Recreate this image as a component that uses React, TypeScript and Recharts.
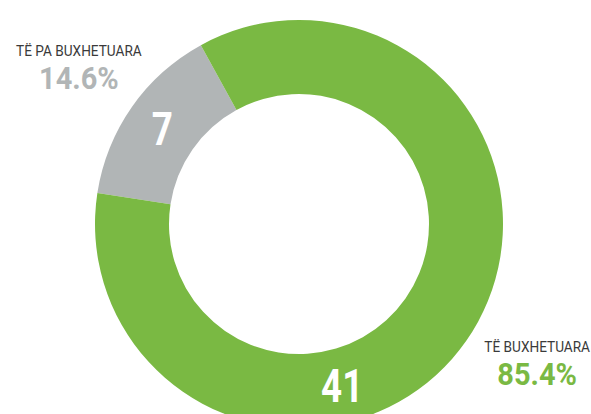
import { Cell, Pie, PieChart } from "recharts";

const categories = ["TË PA BUXHETUARA", "TË BUXHETUARA"];
const counts = [7, 41];
const colors = ["#b1b5b6", "#7ab943"];
const nameColor = "#3a3a3a";

const total = counts.reduce((s, v) => s + v, 0);
const data = categories.map((name, i) => ({
  name,
  value: counts[i],
  pct: ((counts[i] / total) * 100).toFixed(1) + "%",
}));

const FONT = "Roboto, 'Liberation Sans', sans-serif";
const RAD = Math.PI / 180;

// squeezed text, to get the condensed look of the original
const Squeezed = ({ x, y, sx, ...rest }: any) => (
  <g transform={`translate(${x},${y}) scale(${sx},1)`}>
    <text x={0} y={0} textAnchor="middle" fontFamily={FONT} {...rest} />
  </g>
);

const renderLabel = (props: any) => {
  const { cx, cy, midAngle, innerRadius, outerRadius, index, value, payload } = props;
  // big slice number sits near the bottom of the ring, not at its middle
  const valAngle = index === 0 ? midAngle : 285;
  const rMid = (innerRadius + outerRadius) / 2;
  const vx = cx + rMid * Math.cos(valAngle * RAD);
  const vy = cy - rMid * Math.sin(valAngle * RAD);

  const outAngle = midAngle + (index === 0 ? -0.4 : 4.5);
  const rOut = outerRadius + (index === 0 ? 66 : 72.4);
  const ox = cx + rOut * Math.cos(outAngle * RAD);
  const oy = cy - rOut * Math.sin(outAngle * RAD);

  return (
    <g>
      <Squeezed x={vx} y={vy + 16.5} sx={0.8} fill="#ffffff" fontWeight="bold" fontSize={46}>
        {value}
      </Squeezed>
      <Squeezed x={ox} y={oy - 12} sx={0.88} fill={nameColor} fontSize={15.5}>
        {payload.name}
      </Squeezed>
      <Squeezed x={ox} y={oy + 21} sx={0.92} fill={colors[index]} fontWeight="bold" fontSize={31.5}>
        {payload.pct}
      </Squeezed>
    </g>
  );
};

export default function App() {
  const start = 118.75;
  return (
    <div>
      <style>{`body{margin:0;background:#fff}`}</style>
      <PieChart width={591} height={414}>
        <Pie
          data={data}
          dataKey="value"
          cx={294}
          cy={219}
          innerRadius={130}
          outerRadius={204}
          startAngle={start}
          endAngle={start + 360}
          stroke="none"
          label={renderLabel}
          labelLine={false}
          isAnimationActive={false}>
          {data.map((d, i) => (
            <Cell key={d.name} fill={colors[i]} />
          ))}
        </Pie>
      </PieChart>
    </div>
  );
}
